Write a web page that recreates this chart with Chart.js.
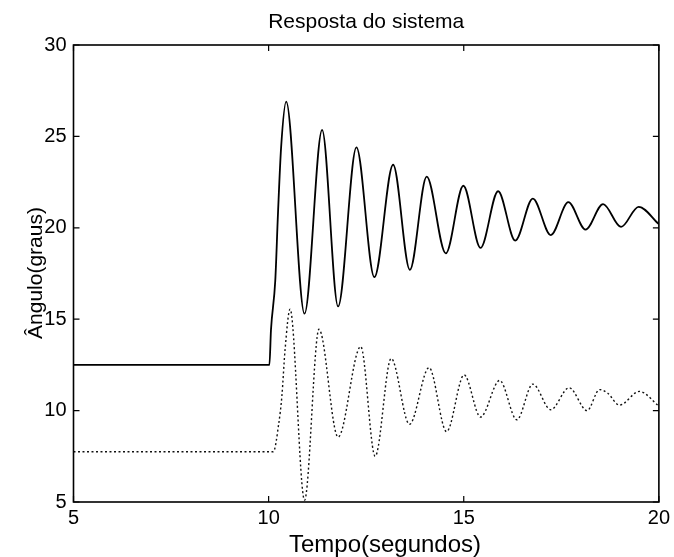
<!DOCTYPE html>
<html>
<head>
<meta charset="utf-8">
<script src="https://cdn.jsdelivr.net/npm/chart.js@4.4.1/dist/chart.umd.min.js"></script>
<style>
  html, body { margin: 0; padding: 0; background: #fff; }
  canvas { display: block; }
</style>
</head>
<body>
<canvas id="c" width="674" height="557"></canvas>
<script>
// Labels
const chartTitle = 'Resposta do sistema';
const xTitle = 'Tempo(segundos)';
const yTitle = 'Ângulo(graus)';

// Axis ticks
const xTicks = [5, 10, 15, 20];
const yTicks = [5, 10, 15, 20, 25, 30];

// Upper response (solid): time in seconds, angle in degrees
const upperTime  = [5, 10.02, 10.06, 10.17, 10.24, 10.32, 10.45, 10.92, 11.37, 11.78, 12.25, 12.71, 13.19, 13.62, 14.05, 14.54, 14.99, 15.43, 15.88, 16.32, 16.77, 17.23, 17.68, 18.12, 18.57, 19.03, 19.48, 20];
const upperAngle = [12.5, 12.5, 14.4, 17.1, 20.8, 24.4, 26.9, 15.3, 25.35, 15.7, 24.4, 17.3, 23.45, 17.7, 22.8, 18.6, 22.3, 18.9, 22.0, 19.3, 21.6, 19.6, 21.4, 19.9, 21.3, 20.05, 21.15, 20.2];

// Lower response (dotted)
const lowerTime  = [5, 10.12, 10.26, 10.34, 10.42, 10.55, 10.92, 11.29, 11.78, 12.36, 12.73, 13.14, 13.61, 14.11, 14.56, 15.01, 15.43, 15.92, 16.36, 16.77, 17.23, 17.70, 18.16, 18.48, 18.69, 18.99, 19.50, 20];
const lowerAngle = [7.75, 7.75, 9.3, 10.8, 13.3, 15.55, 5.1, 14.45, 8.55, 13.5, 7.5, 12.85, 9.25, 12.35, 8.85, 11.95, 9.65, 11.65, 9.5, 11.45, 10.05, 11.25, 10.0, 11.15, 10.95, 10.3, 11.05, 10.25];

const FONT = '"Liberation Sans", Arial, Helvetica, sans-serif';

const toPoints = (xs, ys) => xs.map((x, i) => ({ x, y: ys[i] }));

// Draws the box frame, inward ticks on all four sides and the text labels
const frameAndLabels = {
  id: 'frameAndLabels',
  afterDraw(chart) {
    const { ctx, chartArea: a, scales } = chart;
    const xs = scales.x, ys = scales.y;
    const tl = 6;
    ctx.save();
    ctx.strokeStyle = '#000';
    ctx.lineWidth = 1.6;
    ctx.strokeRect(a.left, a.top, a.right - a.left, a.bottom - a.top);

    ctx.lineWidth = 1.2;
    ctx.beginPath();
    xTicks.forEach(v => {
      const px = xs.getPixelForValue(v);
      ctx.moveTo(px, a.bottom); ctx.lineTo(px, a.bottom - tl);
      ctx.moveTo(px, a.top);    ctx.lineTo(px, a.top + tl);
    });
    yTicks.forEach(v => {
      const py = ys.getPixelForValue(v);
      ctx.moveTo(a.left, py);  ctx.lineTo(a.left + tl, py);
      ctx.moveTo(a.right, py); ctx.lineTo(a.right - tl, py);
    });
    ctx.stroke();

    ctx.fillStyle = '#000';
    ctx.textBaseline = 'alphabetic';
    ctx.textAlign = 'center';

    ctx.font = '21px ' + FONT;
    ctx.fillText(chartTitle, (a.left + a.right) / 2, 28);

    ctx.font = '24px ' + FONT;
    ctx.fillText(xTitle, 385, 552);

    ctx.font = '21px ' + FONT;
    ctx.translate(42, 273);
    ctx.rotate(-Math.PI / 2);
    ctx.fillText(yTitle, 0, 0);
    ctx.restore();
  }
};

new Chart(document.getElementById('c'), {
  type: 'scatter',
  data: {
    datasets: [
      {
        data: toPoints(upperTime, upperAngle),
        showLine: true,
        borderColor: '#000',
        borderWidth: 1.8,
        pointRadius: 0,
        cubicInterpolationMode: 'monotone',
        fill: false
      },
      {
        data: toPoints(lowerTime, lowerAngle),
        showLine: true,
        borderColor: '#111',
        borderWidth: 1.4,
        borderDash: [2, 2.5],
        pointRadius: 0,
        cubicInterpolationMode: 'monotone',
        fill: false
      }
    ]
  },
  options: {
    responsive: false,
    animation: false,
    layout: { padding: { top: 45, right: 11, bottom: 0, left: 0 } },
    plugins: {
      legend: { display: false },
      tooltip: { enabled: false },
      title: { display: false }
    },
    scales: {
      x: {
        type: 'linear',
        min: 5, max: 20,
        grid: { display: false, drawTicks: false },
        border: { display: false },
        ticks: {
          stepSize: 5,
          padding: 4,
          color: '#000',
          font: { family: FONT, size: 20 },
          maxRotation: 0
        },
        afterBuildTicks(scale) { scale.ticks = xTicks.map(v => ({ value: v })); },
        afterFit(scale) { scale.height = 55; }
      },
      y: {
        type: 'linear',
        min: 5, max: 30,
        grid: { display: false, drawTicks: false },
        border: { display: false },
        ticks: {
          stepSize: 5,
          padding: 7,
          color: '#000',
          font: { family: FONT, size: 20 }
        },
        afterBuildTicks(scale) { scale.ticks = yTicks.map(v => ({ value: v })); },
        afterFit(scale) { scale.width = 73.5; }
      }
    }
  },
  plugins: [frameAndLabels]
});
</script>
</body>
</html>
